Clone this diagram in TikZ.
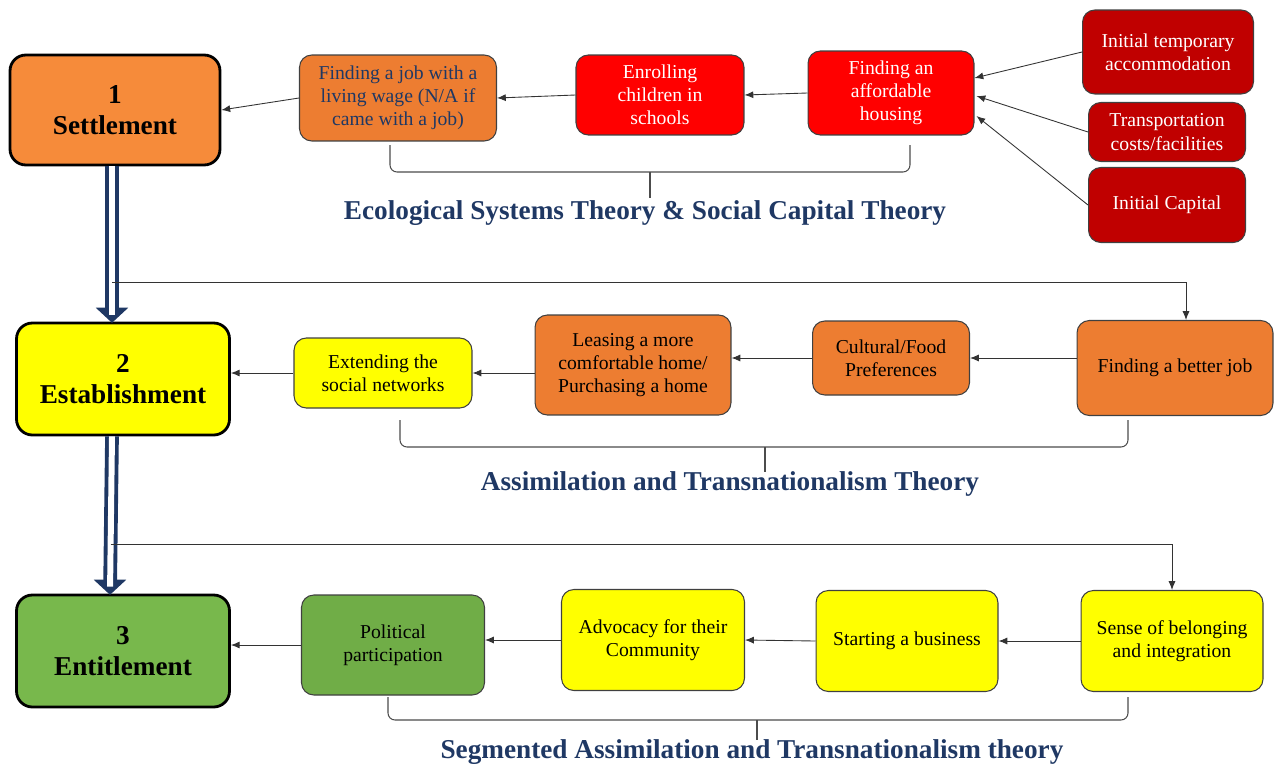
\documentclass[tikz,border=0pt]{standalone}
\usepackage{fontspec}
\setmainfont{LiberationSerif}[Extension=.ttf,UprightFont=*-Regular,BoldFont=*-Bold,ItalicFont=*-Italic,BoldItalicFont=*-BoldItalic]
\usetikzlibrary{calc,arrows.meta}

\definecolor{navy}{HTML}{1F3864}
\definecolor{stageorange}{HTML}{F68B3A}
\definecolor{taskorange}{HTML}{ED7D31}
\definecolor{taskred}{HTML}{FF0000}
\definecolor{darkred}{HTML}{C00000}
\definecolor{taskyellow}{HTML}{FFFF00}
\definecolor{stagegreen}{HTML}{78B84C}
\definecolor{taskgreen}{HTML}{70AD47}

\begin{document}
\begin{tikzpicture}[x=0.02cm,y=-0.02cm,font=\fontsize{11.2}{13.2}\selectfont,
  stage/.style={draw=black,line width=1.6pt,rounded corners=9pt,align=center,font=\fontsize{15.5}{18}\selectfont\bfseries},
  task/.style={draw=black!75,line width=0.6pt,rounded corners=7pt,align=center,inner sep=2pt},
  link/.style={-{Latex[length=5pt,width=4pt]},black!80,line width=0.5pt},
  stagearrow/.style={draw=navy,line width=2.2pt,double=white,double distance=3.4pt,shorten >=4pt},
  stagehead/.style={draw=navy,fill=navy,line width=1pt,line join=miter},
  bracket/.style={black!70,line width=0.6pt,rounded corners=4pt},
  theory/.style={font=\fontsize{15.5}{18}\selectfont\bfseries,text=navy}]

\useasboundingbox (0,0) rectangle (1274,768);

% stages
\node[stage,fill=stageorange,minimum width=4.2cm,minimum height=2.2cm] (s1) at (115,110) {1\\Settlement};
\node[stage,fill=taskyellow,minimum width=4.26cm,minimum height=2.24cm] (s2) at (123,379) {2\\Establishment};
\node[stage,fill=stagegreen,minimum width=4.26cm,minimum height=2.24cm] (s3) at (123,651) {3\\Entitlement};

% settlement row
\node[task,fill=taskorange,text=navy,minimum width=3.94cm,minimum height=1.72cm] (job) at (398,98) {Finding a job with a\\living wage (N/A if\\came with a job)};
\node[task,fill=taskred,text=white,minimum width=3.36cm,minimum height=1.6cm] (enroll) at (660,95) {Enrolling\\children in\\schools};
\node[task,fill=taskred,text=white,minimum width=3.32cm,minimum height=1.68cm] (housing) at (891,93) {Finding an\\affordable\\housing};
\node[task,fill=darkred,text=white,minimum width=3.42cm,minimum height=1.68cm] (temp) at (1168,52) {Initial temporary\\accommodation};
\node[task,fill=darkred,text=white,minimum width=3.14cm,minimum height=1.18cm] (transport) at (1167,132) {Transportation\\costs/facilities};
\node[task,fill=darkred,text=white,minimum width=3.14cm,minimum height=1.5cm] (capital) at (1167,205) {Initial Capital};

\draw[link] (job.west) -- (s1.east);
\draw[link] (enroll.west) -- (job.east);
\draw[link] (housing.west) -- (enroll.east);
\draw[link] (temp.west) -- ($(housing.east)+(0,-15)$);
\draw[link] (transport.west) -- ($(housing.east)+(2,3)$);
\draw[link] (capital.west) -- ($(housing.east)+(2,23)$);

\draw[bracket] (390,145) |- (650,172) -| (910,145);
\draw[bracket] (650,172) -- (650,198);
\node[theory] (eco) at (645,213) {Ecological Systems Theory \& Social Capital Theory};

% establishment row
\node[task,fill=taskyellow,minimum width=3.56cm,minimum height=1.4cm] (extend) at (383,373) {Extending the\\social networks};
\node[task,fill=taskorange,minimum width=3.92cm,minimum height=2cm] (leasing) at (633,365) {Leasing a more\\comfortable home/\\Purchasing a home};
\node[task,fill=taskorange,minimum width=3.14cm,minimum height=1.48cm] (food) at (891,358) {Cultural/Food\\Preferences};
\node[task,fill=taskorange,minimum width=3.92cm,minimum height=1.9cm] (betterjob) at (1175,368) {Finding a better job};

\draw[link] (extend.west) -- (extend.west -| s2.east);
\draw[link] (leasing.west |- extend.east) -- (extend.east);
\draw[link] (food.west) -- (food.west -| leasing.east);
\draw[link] (betterjob.west |- food.east) -- (food.east);

\draw[bracket] (400,420) |- (765,447) -| (1128,420);
\draw[bracket] (765,447) -- (765,472);
\node[theory] (assim) at (730,484) {Assimilation and Transnationalism Theory};

% entitlement row
\node[task,fill=taskgreen,minimum width=3.66cm,minimum height=2cm] (politics) at (393,645) {Political\\participation};
\node[task,fill=taskyellow,minimum width=3.66cm,minimum height=2.02cm] (advocacy) at (653,640) {Advocacy for their\\Community};
\node[task,fill=taskyellow,minimum width=3.64cm,minimum height=2.02cm] (business) at (907,641) {Starting a business};
\node[task,fill=taskyellow,minimum width=3.64cm,minimum height=2.02cm] (belonging) at (1172,641) {Sense of belonging\\and integration};

\draw[link] (politics.west) -- (politics.west -| s3.east);
\draw[link] (advocacy.west) -- (advocacy.west -| politics.east);
\draw[link] (business.west) -- (advocacy.east);
\draw[link] (belonging.west) -- (business.east);

\draw[bracket] (388,697) |- (757,720) -| (1128,697);
\draw[bracket] (757,720) -- (757,740);
\node[theory] (segm) at (752,752) {Segmented Assimilation and Transnationalism theory};

% stage arrows and feeds
\coordinate (top1) at ($(s1.south)+(-3,0)$);
\coordinate (end1) at (top1 |- s2.north);
\coordinate (top2) at (top1 |- s2.south);
\coordinate (end2) at ($(top1 |- s3.north)+(-2,0)$);
\draw[stagehead] (end1) -- ++(-14,-13) -- ++(28,0) -- cycle;
\draw[stagearrow] (top1) -- (end1);
\draw[stagehead] (end2) -- ++(-14,-13) -- ++(28,0) -- cycle;
\draw[stagearrow] (top2) -- (end2);
\coordinate (tap1) at ($(top1)!0.75!(end1)$);
\coordinate (tap2) at ($(top2)!0.69!(end2)$);
\draw[link] (tap1) -| ($(betterjob.north)+(11,0)$);
\draw[link] (tap2) -| (belonging.north);

\end{tikzpicture}
\end{document}
